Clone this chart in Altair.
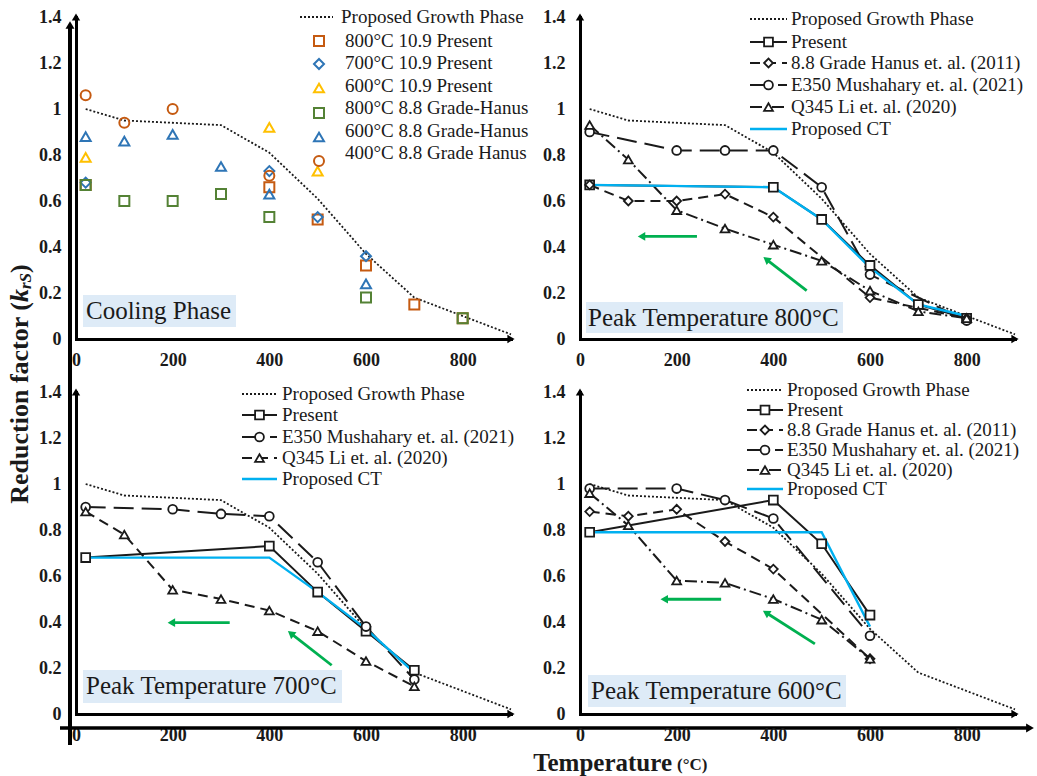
import math
import altair as alt
import pandas as pd

# ---------------------------------------------------------------- styling
SERIF = "Liberation Serif"
INK = "#1a1a1a"
ORANGE = "#C55A11"
BLUE = "#2E75B6"
YELLOW = "#FFC000"
GREEN = "#548235"
CT_BLUE = "#00B0F0"
ARROW_GREEN = "#00B050"
TAG_BLUE = "#DEEBF7"

DOT = [2, 2]
DASH = [10, 6]
LONG_DASH = [20, 8]
DASH_DOT = [12, 4, 2, 4]

# ---------------------------------------------------------------- axes
X_MAX, Y_MAX = 900, 1.4
X_TICKS = [0, 200, 400, 600, 800]
Y_TICKS = [0, 0.2, 0.4, 0.6, 0.8, 1, 1.2, 1.4]
W, H = 435, 322
PXX, PXY = W / X_MAX, H / Y_MAX

# ---------------------------------------------------------------- data
# proposed growth-phase curve, drawn in every panel
growth_temp = [20, 100, 300, 400, 500, 600, 700, 800, 900]
growth_k = [1.00, 0.95, 0.93, 0.81, 0.61, 0.37, 0.18, 0.10, 0.02]

# peak temperature 800 C
present800_temp = [20, 400, 500, 600, 700, 800]
present800_k = [0.67, 0.66, 0.52, 0.32, 0.15, 0.09]
hanus800_temp = [20, 100, 200, 300, 400, 600, 800]
hanus800_k = [0.67, 0.60, 0.60, 0.63, 0.53, 0.18, 0.09]
e350_800_temp = [20, 200, 300, 400, 500, 600, 800]
e350_800_k = [0.90, 0.82, 0.82, 0.82, 0.66, 0.28, 0.08]
q345_800_temp = [20, 100, 200, 300, 400, 500, 600, 700, 800]
q345_800_k = [0.93, 0.78, 0.56, 0.48, 0.41, 0.34, 0.21, 0.12, 0.09]
ct800_temp = [20, 400, 500, 600, 700, 800]
ct800_k = [0.67, 0.66, 0.52, 0.31, 0.15, 0.10]

# peak temperature 700 C
present700_temp = [20, 400, 500, 600, 700]
present700_k = [0.68, 0.73, 0.53, 0.36, 0.19]
e350_700_temp = [20, 200, 300, 400, 500, 600, 700]
e350_700_k = [0.90, 0.89, 0.87, 0.86, 0.66, 0.38, 0.15]
q345_700_temp = [20, 100, 200, 300, 400, 500, 600, 700]
q345_700_k = [0.88, 0.78, 0.54, 0.50, 0.45, 0.36, 0.23, 0.12]
ct700_temp = [20, 400, 500, 600, 700]
ct700_k = [0.68, 0.68, 0.53, 0.37, 0.18]

# peak temperature 600 C
present600_temp = [20, 400, 500, 600]
present600_k = [0.79, 0.93, 0.74, 0.43]
hanus600_temp = [20, 100, 200, 300, 400, 600]
hanus600_k = [0.88, 0.86, 0.89, 0.75, 0.63, 0.24]
e350_600_temp = [20, 200, 300, 400, 600]
e350_600_k = [0.98, 0.98, 0.93, 0.85, 0.34]
q345_600_temp = [20, 100, 200, 300, 400, 500, 600]
q345_600_k = [0.96, 0.82, 0.58, 0.57, 0.50, 0.41, 0.24]
ct600_temp = [20, 500, 600]
ct600_k = [0.79, 0.79, 0.38]

# cooling phase scatter (10.9 present tests and 8.8 grade Hanus)
cool700_temp = [20, 400, 500, 600]
cool700_k = [0.68, 0.73, 0.53, 0.36]
cool600_temp = [20, 400, 500]
cool600_k = [0.79, 0.92, 0.73]
hanus400_temp = [20, 100, 200, 400]
hanus400_k = [1.06, 0.94, 1.00, 0.71]

# green trend arrows (tail, head) in temperature / k units
arrows800 = [((242, 0.446), (119, 0.446)), ((469, 0.21), (379, 0.357))]
arrows700 = [((318, 0.397), (189, 0.397)), ((529, 0.212), (438, 0.361))]
arrows600 = [((292, 0.499), (166, 0.499)), ((486, 0.305), (378, 0.45))]

ONE = pd.DataFrame({"_": [0]})


# ---------------------------------------------------------------- helpers
def t_of(px):
    return px / PXX


def k_of(py):
    return Y_MAX - py / PXY


def enc_x():
    return alt.X("t:Q", scale=alt.Scale(domain=[0, X_MAX], nice=False, zero=False),
                 axis=alt.Axis(values=X_TICKS, title=None, labelPadding=12,
                               labelFlush=False, format="d"))


def enc_y():
    return alt.Y("k:Q", scale=alt.Scale(domain=[0, Y_MAX], nice=False, zero=False),
                 axis=alt.Axis(values=Y_TICKS, title=None, labelPadding=15,
                               labelFlush=False, format="~g"))


def frame(temp, k):
    return pd.DataFrame({"t": temp, "k": k})


def line(temp, k, color, width=2.0, dash=None):
    props = dict(color=color, strokeWidth=width, strokeCap="butt")
    if dash:
        props["strokeDash"] = dash
    return alt.Chart(frame(temp, k)).mark_line(**props).encode(x=enc_x(), y=enc_y())


def markers(temp, k, shape, color, size=78, sw=1.8, white=True):
    if white:
        mark = alt.Chart(frame(temp, k)).mark_point(
            shape=shape, filled=True, fill="white", stroke=color,
            strokeWidth=sw, size=size, opacity=1)
    else:
        mark = alt.Chart(frame(temp, k)).mark_point(
            shape=shape, filled=False, color=color,
            strokeWidth=sw, size=size, opacity=1)
    return mark.encode(x=enc_x(), y=enc_y())


def legend_sample(x0, x1, y, color, width, dash=None):
    df = pd.DataFrame({"t": [t_of(x0)], "t2": [t_of(x1)], "k": [k_of(y)]})
    props = dict(color=color, strokeWidth=width, strokeCap="butt")
    if dash:
        props["strokeDash"] = dash
    return alt.Chart(df).mark_rule(**props).encode(x=enc_x(), x2=alt.X2("t2:Q"), y=enc_y())


def legend_text(x, y, label, size=19):
    df = pd.DataFrame({"t": [t_of(x)], "k": [k_of(y)], "label": [label]})
    return alt.Chart(df).mark_text(align="left", baseline="middle", font=SERIF,
                                   fontSize=size, color=INK).encode(
        x=enc_x(), y=enc_y(), text="label:N")


def tag(label, box, pos):
    x0, x1, y0, y1 = box
    bg = alt.Chart(ONE).mark_rect(color=TAG_BLUE).encode(
        x=alt.value(x0), x2=alt.value(x1), y=alt.value(y0), y2=alt.value(y1))
    txt = alt.Chart(ONE).mark_text(text=label, align="left", baseline="middle",
                                   font=SERIF, fontSize=25, color=INK).encode(
        x=alt.value(pos[0]), y=alt.value(pos[1]))
    return [bg, txt]


def green_arrow(tail, head):
    (t0, k0), (t1, k1) = tail, head
    dx = (t1 - t0) * PXX
    dy = -(k1 - k0) * PXY
    length = math.hypot(dx, dy)
    ux, uy = dx / length, dy / length

    def back(d):
        return t1 - ux * d / PXX, k1 + uy * d / PXY

    se, ke = back(6)
    shaft = pd.DataFrame({"t": [t0], "k": [k0], "t2": [se], "k2": [ke]})
    hc = back(4)
    angle = math.degrees(math.atan2(ux, -uy)) % 360
    layers = [
        alt.Chart(shaft).mark_rule(color=ARROW_GREEN, strokeWidth=2.8).encode(
            x=enc_x(), y=enc_y(), x2=alt.X2("t2:Q"), y2=alt.Y2("k2:Q")),
        alt.Chart(frame([hc[0]], [hc[1]])).mark_point(
            shape="triangle-up", filled=True, color=ARROW_GREEN, size=75,
            angle=angle, opacity=1, strokeWidth=0).encode(x=enc_x(), y=enc_y()),
    ]
    return layers


def axis_heads():
    up = alt.Chart(frame([0], [Y_MAX])).mark_point(
        shape="triangle-up", filled=True, color="black", size=70, opacity=1,
        strokeWidth=0).encode(x=enc_x(), y=enc_y())
    right = alt.Chart(frame([X_MAX], [0])).mark_point(
        shape="triangle-right", filled=True, color="black", size=70, opacity=1,
        strokeWidth=0).encode(x=enc_x(), y=enc_y())
    return [up, right]


def peak_panel(series, geom, tag_label, tag_box, tag_pos, arrows, extras=()):
    lines = [line(growth_temp, growth_k, INK, 1.8, DOT)]
    marks = []
    for s in series:
        lines.append(line(s["temp"], s["k"], s["color"], s["width"], s.get("dash")))
        if s.get("shape"):
            marks.append(markers(s["temp"], s["k"], s["shape"], s["color"]))

    x0, x1, xt, ys = geom
    leg = [legend_sample(x0, x1, ys[0], INK, 1.8, DOT),
           legend_text(xt, ys[0], "Proposed Growth Phase")]
    for s, y in zip(series, ys[1:]):
        leg.append(legend_sample(x0, x1, y, s["color"], s["width"], s.get("dash")))
        if s.get("shape"):
            leg.append(markers([t_of((x0 + x1) / 2)], [k_of(y)], s["shape"], s["color"]))
        leg.append(legend_text(xt, y, s["label"]))

    arrow_layers = []
    for a in arrows:
        arrow_layers += green_arrow(*a)

    layers = (lines + marks + arrow_layers + tag(tag_label, tag_box, tag_pos)
              + leg + axis_heads() + list(extras))
    return alt.layer(*layers).properties(width=W, height=H)


def series(label, temp, k, color=INK, width=2.0, dash=None, shape=None):
    return dict(label=label, temp=temp, k=k, color=color, width=width, dash=dash, shape=shape)


# ---------------------------------------------------------------- figure frame
frame_v = [
    alt.Chart(ONE).mark_rule(color="black", strokeWidth=4).encode(
        x=alt.value(-6), y=alt.value(9), y2=alt.value(728)),
    alt.Chart(ONE).mark_point(shape="triangle-up", filled=True, color="black", size=80,
                              opacity=1, strokeWidth=0).encode(
        x=alt.value(-6), y=alt.value(8)),
]

y_title = [
    alt.Chart(ONE).mark_text(text="Reduction factor (", angle=270, align="right",
                             baseline="middle", font=SERIF, fontSize=26,
                             fontWeight="bold", color=INK).encode(
        x=alt.value(-56), y=alt.value(285)),
    alt.Chart(ONE).mark_text(text="k", angle=270, align="left", baseline="middle",
                             font=SERIF, fontSize=26, fontWeight="bold",
                             fontStyle="italic", color=INK).encode(
        x=alt.value(-56), y=alt.value(285)),
    alt.Chart(ONE).mark_text(text="rS", angle=270, align="left", baseline="middle",
                             font=SERIF, fontSize=17, fontWeight="bold",
                             fontStyle="italic", color=INK).encode(
        x=alt.value(-50), y=alt.value(272)),
    alt.Chart(ONE).mark_text(text=")", angle=270, align="left", baseline="middle",
                             font=SERIF, fontSize=26, fontWeight="bold", color=INK).encode(
        x=alt.value(-56), y=alt.value(256)),
]

frame_h = [
    alt.Chart(ONE).mark_rule(color="black", strokeWidth=3.5).encode(
        x=alt.value(-16), x2=alt.value(952), y=alt.value(336)),
    alt.Chart(ONE).mark_point(shape="triangle-right", filled=True, color="black", size=80,
                              opacity=1, strokeWidth=0).encode(
        x=alt.value(954), y=alt.value(336)),
]

x_title = [
    alt.Chart(ONE).mark_text(text="Temperature", align="right", baseline="alphabetic",
                             font=SERIF, fontSize=25, fontWeight="bold", color=INK).encode(
        x=alt.value(92), y=alt.value(379)),
    alt.Chart(ONE).mark_text(text="(°C)", align="left", baseline="alphabetic",
                             font=SERIF, fontSize=17, fontWeight="bold", color=INK).encode(
        x=alt.value(97), y=alt.value(378)),
]

# ---------------------------------------------------------------- cooling phase panel
cool_series = [
    ("800°C 10.9 Present", present800_temp, present800_k, "square", ORANGE),
    ("700°C 10.9 Present", cool700_temp, cool700_k, "diamond", BLUE),
    ("600°C 10.9 Present", cool600_temp, cool600_k, "triangle-up", YELLOW),
    ("800°C 8.8 Grade-Hanus", hanus800_temp, hanus800_k, "square", GREEN),
    ("600°C 8.8 Grade-Hanus", hanus600_temp, hanus600_k, "triangle-up", BLUE),
    ("400°C 8.8 Grade Hanus", hanus400_temp, hanus400_k, "circle", ORANGE),
]
cool_text_y = [24, 46, 69, 91, 114, 136]
cool_symbol_y = [24, 47, 71, 96, 120, 144]

p1_layers = [line(growth_temp, growth_k, INK, 1.8, DOT)]
for label, temp, k, shape, color in cool_series:
    p1_layers.append(markers(temp, k, shape, color, size=100, sw=2.0, white=False))
p1_layers += tag("Cooling Phase", (7, 160, 278, 310), (10, 294))
p1_layers += [legend_sample(224, 257, 0, INK, 1.8, DOT),
              legend_text(265, 0, "Proposed Growth Phase")]
for (label, temp, k, shape, color), ty, sy in zip(cool_series, cool_text_y, cool_symbol_y):
    p1_layers.append(markers([t_of(243)], [k_of(sy)], shape, color, size=100, sw=2.0, white=False))
    p1_layers.append(legend_text(269, ty, label))
p1_layers += axis_heads() + frame_v + y_title
p1 = alt.layer(*p1_layers).properties(width=W, height=H)

# ---------------------------------------------------------------- peak temperature panels
p2 = peak_panel(
    [series("Present", present800_temp, present800_k, shape="square"),
     series("8.8 Grade Hanus et. al. (2011)", hanus800_temp, hanus800_k, dash=DASH, shape="diamond"),
     series("E350 Mushahary et. al. (2021)", e350_800_temp, e350_800_k, dash=LONG_DASH, shape="circle"),
     series("Q345 Li et. al. (2020)", q345_800_temp, q345_800_k, dash=DASH_DOT, shape="triangle-up"),
     series("Proposed CT", ct800_temp, ct800_k, color=CT_BLUE, width=2.4)],
    (170, 207, 211, [2, 25, 46, 68, 90, 112]),
    "Peak Temperature 800°C", (6, 263, 285, 316), (8, 301),
    arrows800)

p3 = peak_panel(
    [series("Present", present700_temp, present700_k, shape="square"),
     series("E350 Mushahary et. al. (2021)", e350_700_temp, e350_700_k, dash=LONG_DASH, shape="circle"),
     series("Q345 Li et. al. (2020)", q345_700_temp, q345_700_k, dash=DASH, shape="triangle-up"),
     series("Proposed CT", ct700_temp, ct700_k, color=CT_BLUE, width=2.4)],
    (166, 201, 206, [2, 23, 45, 66, 87]),
    "Peak Temperature 700°C", (7, 266, 278, 311), (10, 294),
    arrows700, extras=frame_h)

p4 = peak_panel(
    [series("Present", present600_temp, present600_k, shape="square"),
     series("8.8 Grade Hanus et. al. (2011)", hanus600_temp, hanus600_k, dash=DASH, shape="diamond"),
     series("E350 Mushahary et. al. (2021)", e350_600_temp, e350_600_k, dash=LONG_DASH, shape="circle"),
     series("Q345 Li et. al. (2020)", q345_600_temp, q345_600_k, dash=DASH_DOT, shape="triangle-up"),
     series("Proposed CT", ct600_temp, ct600_k, color=CT_BLUE, width=2.4)],
    (167, 203, 207, [-2, 18, 38, 58, 78, 97]),
    "Peak Temperature 600°C", (8, 266, 283, 315), (11, 299),
    arrows600, extras=x_title)

# ---------------------------------------------------------------- assemble
chart = (
    alt.concat(p1, p2, p3, p4, columns=2, spacing={"row": 53, "column": 69},
               bounds="flush")
    .properties(padding={"left": 7, "top": 8, "right": 0, "bottom": 0},
                background="white")
    .configure_view(stroke=None)
    .configure_axis(labelFont=SERIF, labelFontSize=18, labelFontWeight="bold",
                    labelColor=INK, ticks=False, grid=False, domainColor="black",
                    domainWidth=3, domainCap="square")
)

chart.save("out.html", embed_options={"renderer": "svg", "actions": False})
